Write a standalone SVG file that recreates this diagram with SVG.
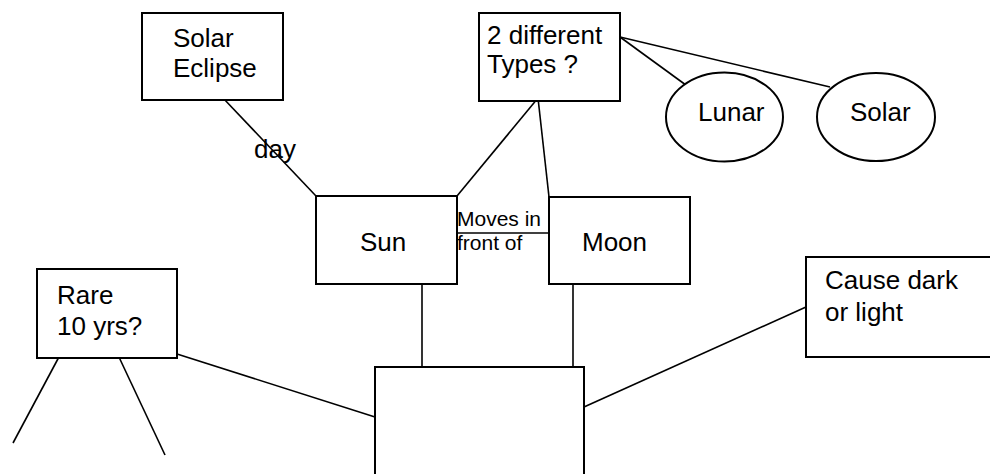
<svg xmlns="http://www.w3.org/2000/svg" width="990" height="474" viewBox="0 0 990 474">
  <style>
    .box { fill: #ffffff; stroke: #000000; stroke-width: 2; }
    .link { stroke: #000000; stroke-width: 1.6; fill: none; }
    .lbl { font-family: "Liberation Sans", Arial, sans-serif; font-size: 26px; fill: #000000; }
    .small { font-family: "Liberation Sans", Arial, sans-serif; font-size: 21px; fill: #000000; }
  </style>
  <rect width="990" height="474" fill="#ffffff"/>

  <!-- connectors -->
  <g id="connectors">
    <line class="link" x1="223" y1="98" x2="316" y2="196"/>
    <line class="link" x1="538" y1="98" x2="457" y2="196"/>
    <line class="link" x1="538" y1="98" x2="549" y2="197"/>
    <line class="link" x1="620" y1="37" x2="690" y2="88"/>
    <line class="link" x1="620" y1="37" x2="830" y2="87"/>
    <line class="link" x1="457" y1="233" x2="549" y2="233"/>
    <line class="link" x1="422" y1="284" x2="422" y2="367"/>
    <line class="link" x1="573" y1="284" x2="573" y2="367"/>
    <line class="link" x1="177" y1="354" x2="375" y2="417"/>
    <line class="link" x1="584" y1="407" x2="806" y2="307"/>
    <line class="link" x1="60" y1="355" x2="13" y2="443"/>
    <line class="link" x1="118" y1="355" x2="165" y2="455"/>
    <text class="lbl" x="254" y="158">day</text>
    <text class="small" x="457" y="226">Moves in</text>
    <text class="small" x="457" y="250">front of</text>
  </g>

  <g id="solar-eclipse">
    <rect class="box" x="142" y="13" width="141" height="87"/>
    <text class="lbl" x="173" y="47">Solar</text>
    <text class="lbl" x="173" y="77">Eclipse</text>
  </g>

  <g id="types">
    <rect class="box" x="479" y="13" width="141" height="88"/>
    <text class="lbl" x="487" y="44">2 different</text>
    <text class="lbl" x="487" y="73">Types ?</text>
  </g>

  <g id="lunar">
    <ellipse class="box" cx="724.5" cy="117" rx="58.5" ry="44.5"/>
    <text class="lbl" x="698" y="121">Lunar</text>
  </g>

  <g id="solar">
    <ellipse class="box" cx="876" cy="117" rx="59" ry="44"/>
    <text class="lbl" x="850" y="121">Solar</text>
  </g>

  <g id="sun">
    <rect class="box" x="316" y="196" width="141" height="88"/>
    <text class="lbl" x="360" y="251">Sun</text>
  </g>

  <g id="moon">
    <rect class="box" x="549" y="197" width="141" height="87"/>
    <text class="lbl" x="582" y="251">Moon</text>
  </g>

  <g id="rare">
    <rect class="box" x="37" y="269" width="140" height="89"/>
    <text class="lbl" x="57" y="304">Rare</text>
    <text class="lbl" x="57" y="335">10 yrs?</text>
  </g>

  <g id="cause">
    <rect class="box" x="806" y="257" width="200" height="100"/>
    <text class="lbl" x="825" y="289">Cause dark</text>
    <text class="lbl" x="825" y="321">or light</text>
  </g>

  <g id="centre">
    <rect class="box" x="375" y="367" width="209" height="130"/>
  </g>
</svg>
